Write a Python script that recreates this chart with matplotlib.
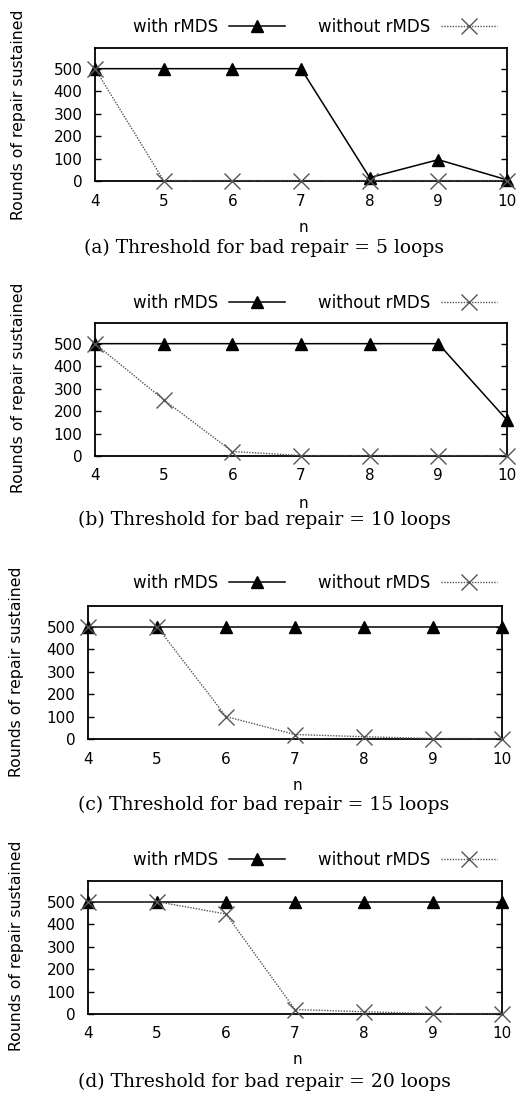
import matplotlib
matplotlib.use("agg")
import matplotlib.pyplot as plt

# data
n_values = [4, 5, 6, 7, 8, 9, 10]

with_a = [500, 500, 500, 500, 15, 95, 5]
without_a = [500, 2, 2, 2, 2, 2, 2]
with_b = [500, 500, 500, 500, 500, 500, 160]
without_b = [500, 250, 20, 2, 2, 2, 2]
with_c = [500, 500, 500, 500, 500, 500, 500]
without_c = [500, 500, 100, 20, 10, 2, 2]
with_d = [500, 500, 500, 500, 500, 500, 500]
without_d = [500, 500, 445, 20, 10, 2, 2]

captions = [
    "(a) Threshold for bad repair = 5 loops",
    "(b) Threshold for bad repair = 10 loops",
    "(c) Threshold for bad repair = 15 loops",
    "(d) Threshold for bad repair = 20 loops",
]
y_ticks = [0, 100, 200, 300, 400, 500]

W, H = 520, 1096
plt.rcParams['font.family'] = ['DejaVu Sans']
fig = plt.figure(figsize=(W / 100, H / 100), dpi=100)

# pixel layout: left, right, top, bottom, legend y, caption y, n y, ylabel x, ylabel y
layout = [
    (95, 507, 48, 181, 27, 248, 228, 19, 115),
    (95, 507, 323, 456, 303, 520, 503, 19, 388),
    (88, 502, 606, 739, 583, 805, 785, 17, 672),
    (88, 502, 881, 1014, 860, 1082, 1060, 17, 946),
]
series = [(with_a, without_a), (with_b, without_b), (with_c, without_c), (with_d, without_d)]

for (l, r, t, b, ly, cy, ny, yx, yy), (w, wo), cap in zip(layout, series, captions):
    ax = fig.add_axes([l / W, 1 - b / H, (r - l) / W, (b - t) / H])
    ax.plot(n_values, w, color='black', lw=1.1, marker='^', markersize=8.5,
            label='with rMDS', clip_on=False, zorder=3)
    ax.plot(n_values, wo, color='#555555', lw=1.0, ls=(0, (1, 1)), marker='x',
            markersize=12, markeredgewidth=1.0, label='without rMDS',
            clip_on=False, zorder=4)
    ax.set_xlim(4, 10)
    ax.set_ylim(0, 592)
    ax.set_xticks(n_values)
    ax.set_yticks(y_ticks)
    ax.tick_params(axis='y', direction='in', right=True, length=4, width=1,
                   labelsize=11, pad=9)
    ax.tick_params(axis='x', direction='in', length=0, labelsize=11, pad=9)
    for s in ax.spines.values():
        s.set_linewidth(1.3)
    ax.legend(loc='center right', bbox_to_anchor=(497 / W, 1 - ly / H),
              bbox_transform=fig.transFigure, ncol=2, frameon=False,
              markerfirst=False, handlelength=3.35, columnspacing=2.0,
              fontsize=12, borderaxespad=0, borderpad=0, handletextpad=0.65)
    fig.text((l + r) / 2 / W + 0.005, 1 - ny / H, "n", ha='center', va='center',
             fontsize=11)
    fig.text(yx / W, 1 - yy / H, "Rounds of repair sustained", rotation=90,
             ha='center', va='center', fontsize=11.3)
    fig.text(264 / W, 1 - cy / H, cap, ha='center', va='center', fontsize=13.5,
             family=['DejaVu Serif'])

plt.savefig("out.png", dpi=100)
plt.close()
